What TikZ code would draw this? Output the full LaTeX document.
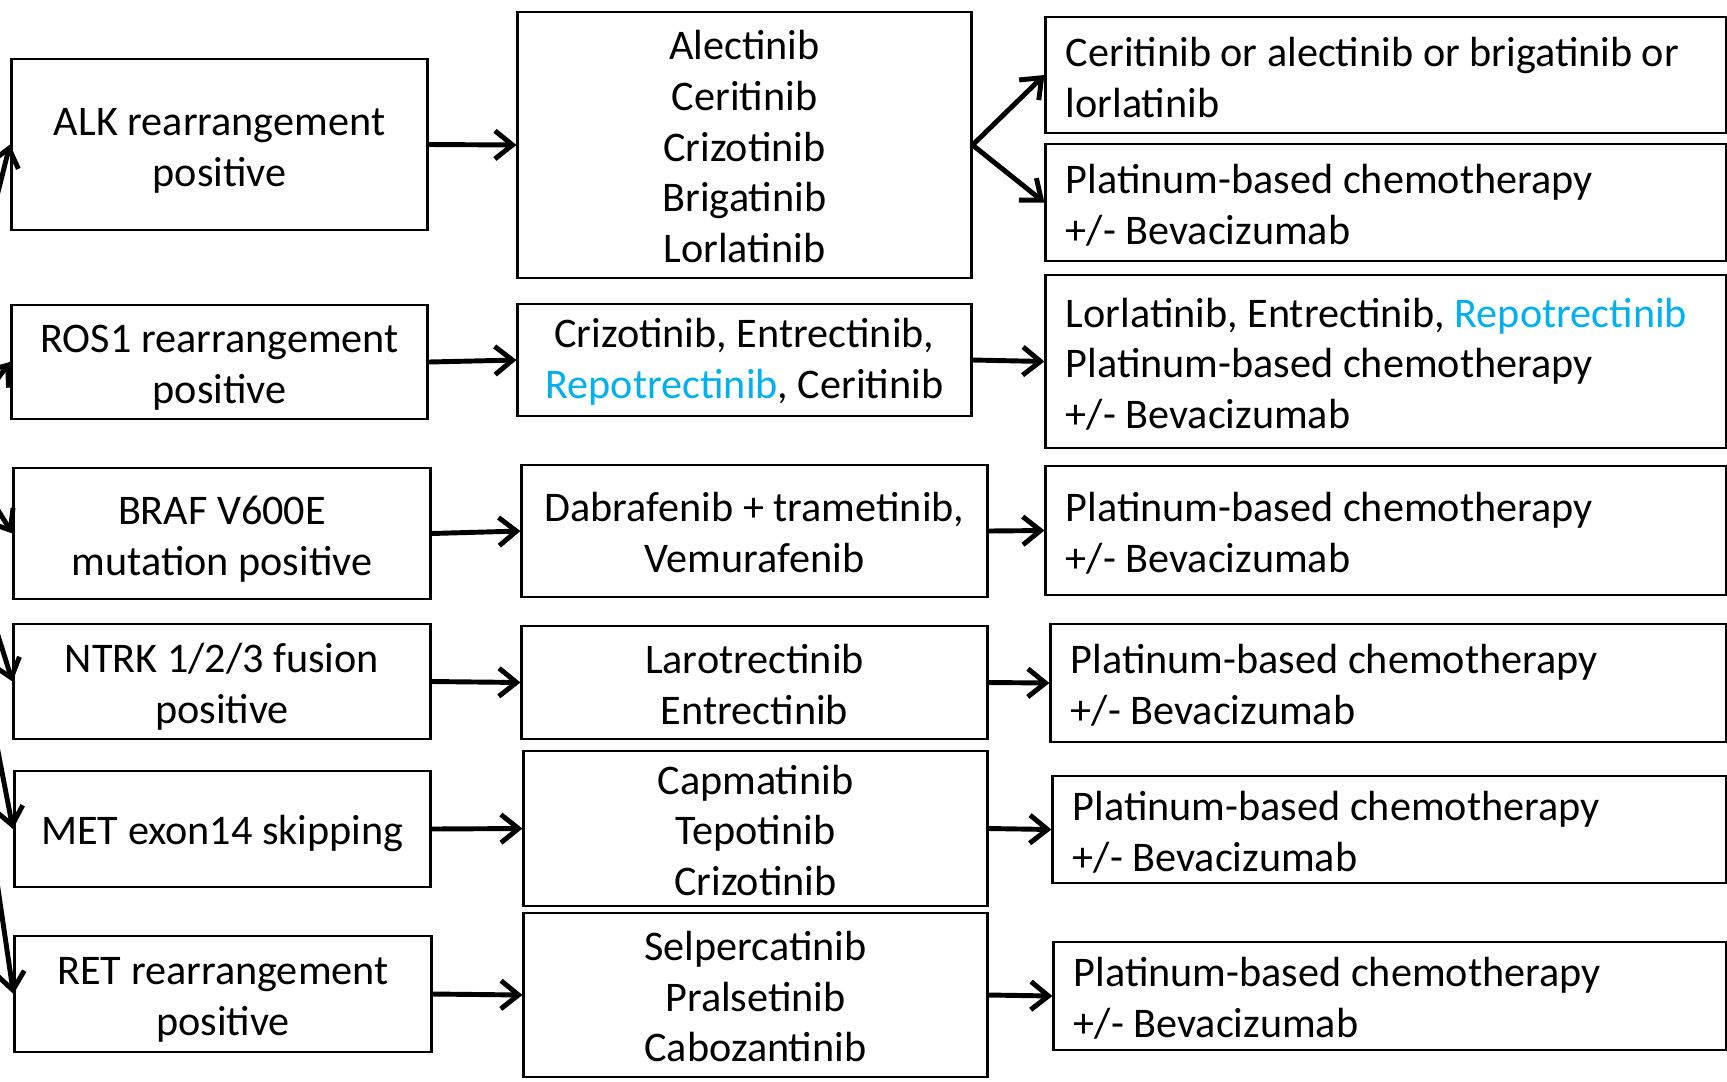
\documentclass[tikz,border=0pt]{standalone}
\usepackage{fontspec}
\setmainfont{Carlito}
\usetikzlibrary{arrows.meta}
\definecolor{newdrug}{RGB}{0,176,240}
\newcommand{\topgap}[1]{\rule{0pt}{\dimexpr\fontcharht\font`l+#1\relax}}

\begin{document}
\begin{tikzpicture}[
    x=0.01cm, y=-0.01cm,
    every node/.style={font=\fontsize{12}{14.4}\selectfont},
    gene/.style={rectangle, draw, line width=0.8pt, text width=4.16cm,
                 minimum height=#1, align=flush center, inner sep=0pt,
                 execute at begin node={\topgap{2.8pt}}},
    drug/.style={rectangle, draw, line width=0.8pt, minimum height=#1,
                 align=flush center, inner sep=0pt,
                 execute at begin node={\topgap{1pt}}},
    later/.style={rectangle, draw, line width=0.8pt, minimum height=#1,
                  text width=6.4cm, inner xsep=0.2cm, inner ysep=0pt, align=flush left,
                  execute at begin node={\topgap{1.4pt}}},
    flow/.style={-{Straight Barb[length=5pt, width=8pt]}, line width=1.4pt},
  ]
    \useasboundingbox (0,0) rectangle (1727,1081);

    % Alterations
    \node[gene=1.71cm] (alk) at (219.5,144.5) {ALK rearrangement\\positive};
    \node[gene=1.14cm] (ros) at (219.5,362) {ROS1 rearrangement\\positive};
    \node[gene=1.31cm] (braf) at (222,533.5) {BRAF V600E\\mutation positive};
    \node[gene=1.15cm] (ntrk) at (222,681.5) {NTRK 1/2/3 fusion\\positive};
    \node[gene=1.16cm] (met) at (222.5,829) {MET exon14 skipping};
    \node[gene=1.16cm] (ret) at (223,994) {RET rearrangement\\positive};

    % First-line targeted therapy
    \node[drug=2.66cm, text width=4.53cm] (alkrx) at (744.5,145)
      {Alectinib\\Ceritinib\\Crizotinib\\Brigatinib\\Lorlatinib};
    \node[drug=1.12cm, text width=4.53cm] (rosrx) at (744.5,360)
      {Crizotinib, Entrectinib,\\\textcolor{newdrug}{Repotrectinib}, Ceritinib};
    \node[drug=1.32cm, text width=4.65cm] (brafrx) at (754.5,531)
      {Dabrafenib + trametinib,\\Vemurafenib};
    \node[drug=1.13cm, text width=4.65cm] (ntrkrx) at (754.5,682.5)
      {Larotrectinib\\Entrectinib};
    \node[drug=1.55cm, text width=4.63cm] (metrx) at (755.5,828.5)
      {Capmatinib\\Tepotinib\\Crizotinib};
    \node[drug=1.64cm, text width=4.63cm] (retrx) at (755.5,995)
      {Selpercatinib\\Pralsetinib\\Cabozantinib};

    % Subsequent therapy
    \node[later=1.16cm] (alkA) at (1386,75)
      {Ceritinib or alectinib or brigatinib or\\lorlatinib};
    \node[later=1.17cm] (alkB) at (1386,202.5)
      {Platinum-based chemotherapy\\+/- Bevacizumab};
    \node[later=1.73cm] (rosA) at (1386,361.5)
      {Lorlatinib, Entrectinib, \textcolor{newdrug}{Repotrectinib}\\Platinum-based chemotherapy\\+/- Bevacizumab};
    \node[later=1.29cm] (brafA) at (1386,530.5)
      {Platinum-based chemotherapy\\+/- Bevacizumab};
    \node[later=1.18cm, text width=6.35cm] (ntrkA) at (1388.5,683)
      {Platinum-based chemotherapy\\+/- Bevacizumab};
    \node[later=1.07cm, text width=6.33cm] (metA) at (1389.5,829.5)
      {Platinum-based chemotherapy\\+/- Bevacizumab};
    \node[later=1.08cm, text width=6.32cm] (retA) at (1390,996)
      {Platinum-based chemotherapy\\+/- Bevacizumab};

    % Incoming arrows from the left edge
    \coordinate (inalk) at (-4,200);
    \coordinate (inros) at (-4,381);
    \coordinate (inbraf) at (-4,507);
    \coordinate (inntrk) at (-4,629);
    \coordinate (inmet) at (-4,741);
    \coordinate (inret) at (-4,875);
    \draw[flow] (inalk) -- (alk.west);
    \draw[flow] (inros) -- (ros.west);
    \draw[flow] (inbraf) -- (braf.west);
    \draw[flow] (inntrk) -- (ntrk.west);
    \draw[flow] (inmet) -- (met.west);
    \draw[flow] (inret) -- (ret.west);

    % Arrows: alteration to therapy
    \draw[flow] (alk.east) -- (alkrx.west);
    \draw[flow] (ros.east) -- (rosrx.west);
    \draw[flow] (braf.east) -- (brafrx.west);
    \draw[flow] (ntrk.east) -- (ntrkrx.west);
    \draw[flow] (met.east) -- (metrx.west);
    \draw[flow] (ret.east) -- (retrx.west);

    % Arrows: therapy to next line
    \draw[flow] (alkrx.east) -- (alkA.west);
    \draw[flow] (alkrx.east) -- (alkB.west);
    \draw[flow] (rosrx.east) -- (rosA.west);
    \draw[flow] (brafrx.east) -- (brafA.west);
    \draw[flow] (ntrkrx.east) -- (ntrkA.west);
    \draw[flow] (metrx.east) -- (metA.west);
    \draw[flow] (retrx.east) -- (retA.west);

  \end{tikzpicture}
\end{document}
